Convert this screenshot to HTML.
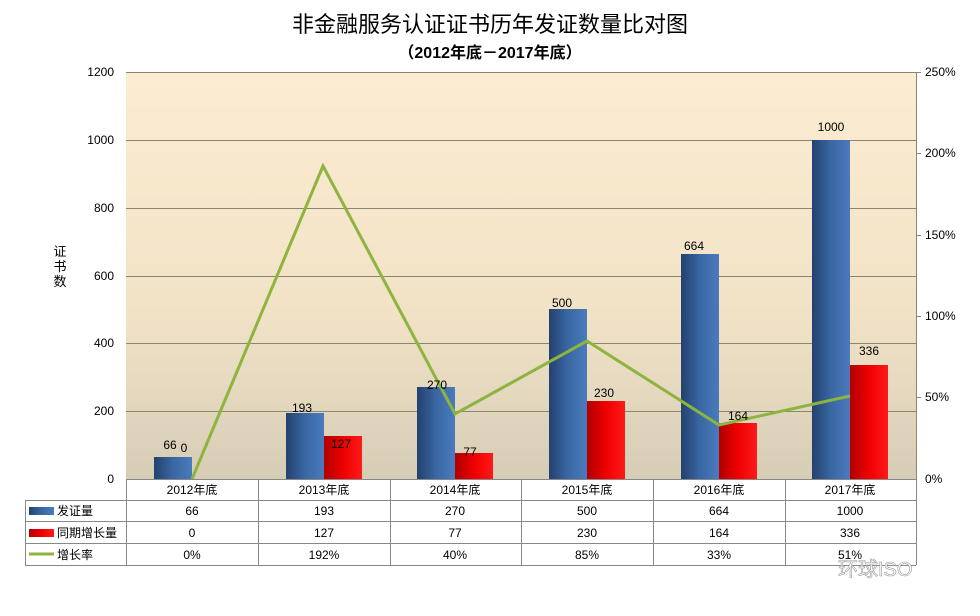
<!DOCTYPE html>
<html><head><meta charset="utf-8"><style>
body{margin:0;background:#fff;}
svg text{font-family:"Liberation Sans","Noto Sans CJK SC",sans-serif;}
</style></head><body>
<svg width="980" height="611" viewBox="0 0 980 611" xmlns="http://www.w3.org/2000/svg">
<defs>
<linearGradient id="bg" x1="0" y1="0" x2="0" y2="1"><stop offset="0" stop-color="#fcedd2"/><stop offset="0.6" stop-color="#f1e2c6"/><stop offset="1" stop-color="#d6cdb6"/></linearGradient>
<linearGradient id="blue" x1="0" y1="0" x2="1" y2="0"><stop offset="0" stop-color="#23416e"/><stop offset="0.5" stop-color="#3a67a3"/><stop offset="1" stop-color="#4a7bbd"/></linearGradient>
<linearGradient id="red" x1="0" y1="0" x2="1" y2="0"><stop offset="0" stop-color="#b00000"/><stop offset="0.5" stop-color="#ee0000"/><stop offset="1" stop-color="#ff1a1a"/></linearGradient>
</defs>
<text x="490" y="32" font-size="22" text-anchor="middle" fill="#000">非金融服务认证证书历年发证数量比对图</text>
<text x="490" y="58" font-size="16" font-weight="bold" text-anchor="middle" fill="#000">（2012年底－2017年底）</text>
<rect x="126" y="72" width="790" height="407" fill="url(#bg)"/>
<g stroke="#8a8670" stroke-width="1">
<line x1="126" y1="72.5" x2="916" y2="72.5"/><line x1="126" y1="140.5" x2="916" y2="140.5"/><line x1="126" y1="208.5" x2="916" y2="208.5"/><line x1="126" y1="276.5" x2="916" y2="276.5"/><line x1="126" y1="343.5" x2="916" y2="343.5"/><line x1="126" y1="411.5" x2="916" y2="411.5"/>
<line x1="916.5" y1="72" x2="916.5" y2="479"/>
</g>
<g font-size="12" text-anchor="end" fill="#000">
<text x="114" y="76">1200</text><text x="114" y="144">1000</text><text x="114" y="212">800</text><text x="114" y="280">600</text><text x="114" y="347">400</text><text x="114" y="415">200</text><text x="114" y="483">0</text>
</g>
<g font-size="12" fill="#000">
<text x="925" y="76">250%</text><text x="925" y="157">200%</text><text x="925" y="239">150%</text><text x="925" y="320">100%</text><text x="925" y="401">50%</text><text x="925" y="483">0%</text>
</g>
<g stroke="#8a8670"><line x1="916" y1="72.5" x2="921" y2="72.5"/><line x1="916" y1="153.5" x2="921" y2="153.5"/><line x1="916" y1="235.5" x2="921" y2="235.5"/><line x1="916" y1="316.5" x2="921" y2="316.5"/><line x1="916" y1="397.5" x2="921" y2="397.5"/></g>
<g font-size="13" fill="#000" text-anchor="middle"><text x="60" y="256">证</text><text x="60" y="271">书</text><text x="60" y="286">数</text></g>
<g>
<rect x="154" y="457" width="38" height="22" fill="url(#blue)"/>
<rect x="286" y="413" width="38" height="66" fill="url(#blue)"/><rect x="324" y="436" width="38" height="43" fill="url(#red)"/>
<rect x="417" y="387" width="38" height="92" fill="url(#blue)"/><rect x="455" y="453" width="38" height="26" fill="url(#red)"/>
<rect x="549" y="309" width="38" height="170" fill="url(#blue)"/><rect x="587" y="401" width="38" height="78" fill="url(#red)"/>
<rect x="681" y="254" width="38" height="225" fill="url(#blue)"/><rect x="719" y="423" width="38" height="56" fill="url(#red)"/>
<rect x="812" y="140" width="38" height="339" fill="url(#blue)"/><rect x="850" y="365" width="38" height="114" fill="url(#red)"/>
</g>
<polyline points="192,479 323,166 455,414 587,341 719,425 850,396" fill="none" stroke="#8db43e" stroke-width="3"/>
<g font-size="12" fill="#000" text-anchor="middle">
<text x="170" y="449">66</text><text x="184" y="452">0</text>
<text x="302" y="412">193</text><text x="341" y="448">127</text>
<text x="437" y="389">270</text><text x="470" y="456">77</text>
<text x="562" y="307">500</text><text x="604" y="397">230</text>
<text x="694" y="250">664</text><text x="738" y="420">164</text>
<text x="831" y="131">1000</text><text x="869" y="355">336</text>
</g>
<g stroke="#888" stroke-width="1" fill="none">
<line x1="126.5" y1="479" x2="126.5" y2="565"/>
<line x1="25.5" y1="500" x2="25.5" y2="565"/>
<line x1="126" y1="479.5" x2="916" y2="479.5"/>
<line x1="25" y1="500.5" x2="916" y2="500.5"/>
<line x1="25" y1="521.5" x2="916" y2="521.5"/>
<line x1="25" y1="543.5" x2="916" y2="543.5"/>
<line x1="25" y1="565.5" x2="916" y2="565.5"/>
<line x1="258.5" y1="479" x2="258.5" y2="565"/><line x1="390.5" y1="479" x2="390.5" y2="565"/><line x1="521.5" y1="479" x2="521.5" y2="565"/><line x1="653.5" y1="479" x2="653.5" y2="565"/><line x1="785.5" y1="479" x2="785.5" y2="565"/><line x1="916.5" y1="479" x2="916.5" y2="565"/>
</g>
<rect x="29" y="507" width="25" height="8" fill="url(#blue)"/>
<rect x="29" y="529" width="25" height="8" fill="url(#red)"/>
<line x1="29" y1="554" x2="54" y2="554" stroke="#8db43e" stroke-width="3"/>
<g font-size="12" fill="#000"><text x="57" y="515">发证量</text><text x="57" y="537">同期增长量</text><text x="57" y="559">增长率</text></g>
<g font-size="12" fill="#000" text-anchor="middle">
<text x="192" y="494">2012年底</text><text x="324" y="494">2013年底</text><text x="455" y="494">2014年底</text><text x="587" y="494">2015年底</text><text x="719" y="494">2016年底</text><text x="850" y="494">2017年底</text>
<text x="192" y="515">66</text><text x="324" y="515">193</text><text x="455" y="515">270</text><text x="587" y="515">500</text><text x="719" y="515">664</text><text x="850" y="515">1000</text>
<text x="192" y="537">0</text><text x="324" y="537">127</text><text x="455" y="537">77</text><text x="587" y="537">230</text><text x="719" y="537">164</text><text x="850" y="537">336</text>
<text x="192" y="559">0%</text><text x="324" y="559">192%</text><text x="455" y="559">40%</text><text x="587" y="559">85%</text><text x="719" y="559">33%</text><text x="850" y="559">51%</text>
</g>
<text x="838" y="576" font-size="20" fill="#fff" stroke="#999" stroke-width="0.6">环球ISO</text>
</svg>
</body></html>
